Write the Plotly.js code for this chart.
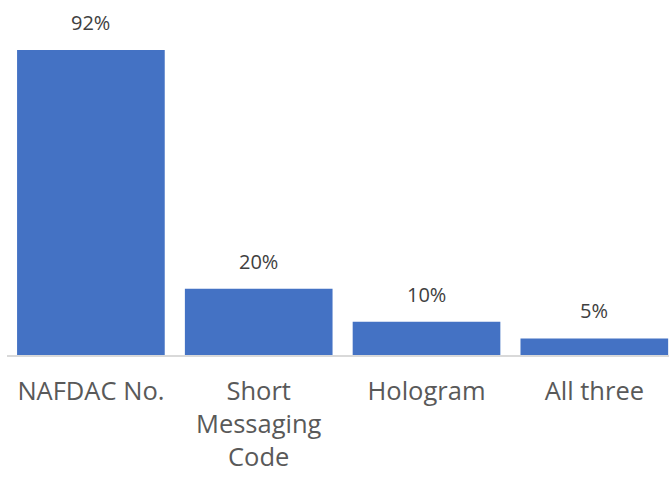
<!DOCTYPE html>
<html><head><meta charset="utf-8">
<script src="https://cdn.plot.ly/plotly-3.0.1.min.js"></script>
<style>html,body{margin:0;padding:0;background:#fff}#c{width:669px;height:477px}</style>
</head><body><div id="c"></div>
<script>
const categories = ["NAFDAC No.", "Short<br>Messaging<br>Code", "Hologram", "All three"];
const values = [92, 20, 10, 5];
const valueLabels = ["92%", "20%", "10%", "5%"];

const FONT = "Open Sans, Noto Sans, sans-serif";
const trace = {
  type: "bar", x: categories, y: values,
  marker: {color: "#4472C4", line: {color: "#ffffff", width: 0}},
  hoverinfo: "none"
};
const annotations = categories.map((c, i) => ({
  x: c, y: values[i], text: valueLabels[i], showarrow: false,
  xanchor: "center", yanchor: "bottom", yshift: 12,
  font: {family: FONT, size: 20, color: "#404040"}
}));
const layout = {
  width: 669, height: 477,
  margin: {l: 7.4, r: 0, t: 0, b: 122},
  paper_bgcolor: "#fff", plot_bgcolor: "#fff",
  showlegend: false, bargap: 0.12,
  xaxis: {
    type: "category", range: [-0.5, 3.445], showgrid: false, zeroline: false,
    showline: true, linecolor: "#d9d9d9", linewidth: 1.5,
    ticks: "", ticklabelstandoff: 13, tickangle: 0,
    tickfont: {family: FONT, size: 25.5, color: "#595959"}
  },
  yaxis: {range: [0, 107.1], visible: false, showgrid: false, zeroline: false},
  annotations: annotations
};
Plotly.newPlot("c", [trace], layout, {displayModeBar: false, staticPlot: true});
</script></body></html>
